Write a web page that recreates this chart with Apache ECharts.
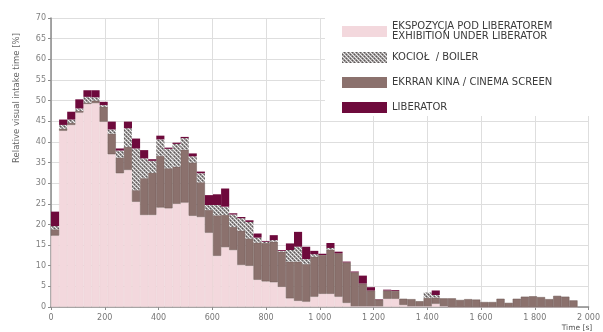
<!DOCTYPE html>
<html><head><meta charset="utf-8">
<script src="https://cdn.jsdelivr.net/npm/echarts@6/dist/echarts.min.js"></script>
<style>html,body{margin:0;padding:0;background:#fff}#c{width:603px;height:332px}</style>
</head><body><div id="c"></div>
<script>
// bin start times [s], bin width 30 s
const binStarts = [0,30,60,90,120,150,180,210,240,270,300,330,360,390,420,450,480,510,540,570,600,630,660,690,720,750,780,810,840,870,900,930,960,990,1020,1050,1080,1110,1140,1170,1200,1230,1260,1290,1320,1350,1380,1410,1440,1470,1500,1530,1560,1590,1620,1650,1680,1710,1740,1770,1800,1830,1860,1890,1920];
const exhibition = [17.3,42.7,44.1,47.1,49.2,49.4,44.9,37.0,32.4,33.2,25.5,22.3,22.3,24.1,23.9,25.0,25.3,22.1,21.8,18.0,12.4,14.5,13.8,10.2,10.0,6.6,6.2,6.0,4.9,2.1,1.5,1.3,2.5,3.2,3.2,2.5,1.0,0.2,0.2,0.2,0.2,2.0,2.0,0.5,0.2,0.2,0.2,0.8,0.2,0,0,0,0,0,0,0,0,0,0,0,0,0,0,0,0];
const cinema = [1.5,0.5,0.5,0.4,0.3,0.6,3.6,5.0,3.8,5.6,2.8,8.9,10.2,12.5,9.7,9.0,12.8,12.9,8.4,5.5,9.8,7.8,5.6,8.3,6.6,9.0,9.3,9.8,8.5,8.9,9.5,9.1,9.7,9.4,10.7,10.5,9.8,8.2,5.5,3.8,1.6,2.0,1.9,1.5,1.7,1.2,2.0,1.5,1.9,2.1,1.7,1.9,1.8,1.2,1.2,2.0,1.0,2.0,2.5,2.6,2.4,1.9,2.7,2.5,1.6];
const boiler = [0.8,0.9,0.8,0.6,1.4,0.8,0.4,1.0,1.7,4.5,10.1,4.8,2.9,4.0,4.7,5.5,2.8,1.5,2.2,1.2,2.5,2.0,3.0,3.0,4.0,1.2,0.3,0.4,0.2,2.8,3.6,1.2,0.6,0,0.4,0,0,0,0,0,0,0,0,0,0,0,1.3,0.6,0,0,0,0,0,0,0,0,0,0,0,0,0,0,0,0,0];
const liberator = [3.5,1.3,1.9,2.2,1.6,1.7,0.8,1.9,0.5,1.6,2.4,2.0,0.4,0.9,0.3,0.3,0.3,0.7,0.4,2.4,2.6,4.4,0.3,0.3,0.4,1.0,0.2,1.2,0.2,1.6,3.6,3.0,0.8,0.3,1.2,0.4,0.2,0.2,1.9,0.8,0.1,0.2,0.2,0,0,0,0,1.1,0,0,0,0,0,0,0,0,0,0,0,0,0,0,0,0,0];
const binWidth = 30;
const xMax = 2000;
const names = ['EKSPOZYCJA POD LIBERATOREM\nEXHIBITION UNDER LIBERATOR','KOCIOŁ  / BOILER','EKRRAN KINA / CINEMA SCREEN','LIBERATOR'];

function makePattern(){
  const c=document.createElement('canvas'); c.width=4; c.height=4;
  const g=c.getContext('2d');
  g.fillStyle='#9e9a9a'; g.fillRect(0,0,4,4);
  g.fillStyle='#eeeeee'; g.fillRect(0,0,1,1); g.fillRect(2,2,1,1); g.fillRect(1,1,1,1); g.fillRect(3,3,1,1);
  g.fillStyle='#5e5a5a'; g.fillRect(2,0,1,1); g.fillRect(0,2,1,1);
  return c;
}
const pat = {image: makePattern(), repeat: 'repeat'};
const W = 603, gl = 51, gr = 12;
const plotW = W - gl - gr;
const barGridW = plotW * (binStarts.length * binWidth) / xMax;
const chart = echarts.init(document.getElementById('c'), null, {renderer:'canvas'});
const font = 'DejaVu Sans';
function bar(name, arr, color, border){
  return {name, type:'bar', stack:'s', xAxisIndex:1, yAxisIndex:1, data: arr,
    barCategoryGap:'0%', itemStyle:{color, borderColor: border || color, borderWidth: border ? 0.5 : 0},
    emphasis:{disabled:true}, z:2};
}
const legendTops = [16, 47, 72, 97];
chart.setOption({
  animation:false,
  grid:[{left:gl, right:gr, top:18, bottom:25}, {left:gl, width:barGridW, top:18, bottom:25}],
  xAxis:[{type:'value', gridIndex:0, min:0, max:xMax, interval:200,
    axisLine:{show:true, lineStyle:{color:'#8a8a8a', width:1.5}},
    axisTick:{show:true, length:3, lineStyle:{color:'#8a8a8a'}},
    axisLabel:{fontSize:8, color:'#777', fontFamily:font, margin:7,
      formatter: v => v>=1000 ? String(v).replace(/(\d)(\d{3})$/,'$1 $2') : String(v)},
    splitLine:{show:true, lineStyle:{color:'#dedede', width:1}}},
    {type:'category', gridIndex:1, data: binStarts.map(String), boundaryGap:true, show:false}],
  yAxis:[{type:'value', gridIndex:0, min:0, max:70, interval:5,
    axisLine:{show:true, lineStyle:{color:'#8a8a8a', width:1.5}},
    axisTick:{show:true, length:3, lineStyle:{color:'#8a8a8a'}},
    axisLabel:{fontSize:8, color:'#808080', fontFamily:font, margin:5},
    splitLine:{show:true, lineStyle:{color:'#dedede', width:1}}},
    {type:'value', gridIndex:1, min:0, max:70, show:false}],
  legend: names.map((n,k)=>({data:[n], left:337, top:legendTops[k], orient:'vertical',
    itemWidth:45, itemHeight:11, itemGap:5, icon:'rect', selectedMode:false, z:10,
    itemStyle:{borderWidth:0},
    textStyle:{fontSize:10, color:'#3a3a3a', fontFamily:font, lineHeight:10.5}})),
  graphic:[
    {type:'rect', shape:{x:325, y:0, width:278, height:116}, style:{fill:'#fff'}, z:5, silent:true},
    {type:'text', x:17, y:98, rotation:Math.PI/2, style:{text:'Relative visual intake time [%]', font:'8.5px "DejaVu Sans"', fill:'#666', align:'center', verticalAlign:'middle'}, z:6},
    {type:'text', x:577, y:328, style:{text:'Time [s]', font:'7.5px "DejaVu Sans"', fill:'#555', align:'center', verticalAlign:'middle'}, z:6}
  ],
  series:[
    bar(names[0], exhibition, '#f3d8dd', '#ead0d5'),
    bar(names[2], cinema, '#8b716d', '#6e5855'),
    bar(names[1], boiler, pat),
    bar(names[3], liberator, '#6e0a3c')
  ]
});
</script></body></html>
